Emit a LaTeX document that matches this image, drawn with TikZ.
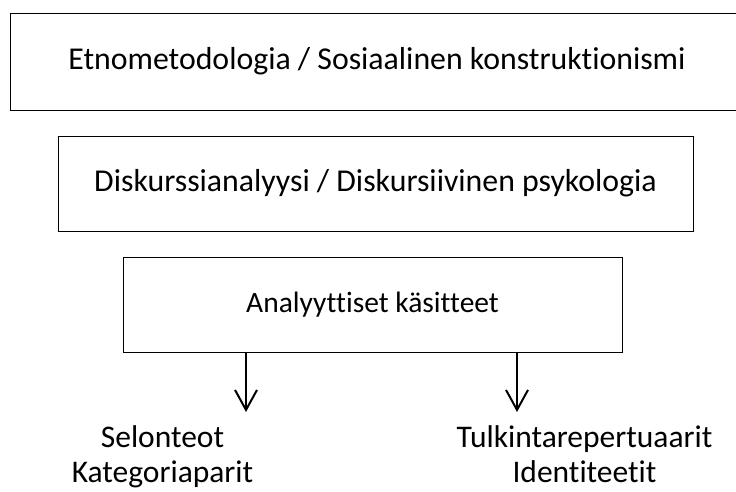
\documentclass[tikz,border=0pt]{standalone}
\usepackage{fontspec}
\setmainfont{Carlito}[Ligatures={NoCommon}]
\usetikzlibrary{arrows.meta, positioning}

\begin{document}
\begin{tikzpicture}[
    x=1pt, y=-1pt,
    node distance=25pt,
    box/.style={rectangle, draw, line width=1pt, inner sep=0pt, align=center, font=\fontsize{31.8}{38}\selectfont},
    term/.style={inner sep=0pt, align=center, text depth=6pt, font=\fontsize{31.5}{35}\selectfont},
    arrow/.style={-{Straight Barb[length=20pt, width=22pt]}, line width=2pt}
]
    \useasboundingbox (0,0) rectangle (736,491);

    \node[box, minimum width=734pt, minimum height=97pt] (etno) at (377,61.5) {Etnometodologia / Sosiaalinen konstruktionismi};
    \node[box, minimum width=635pt, minimum height=95pt, below=of etno, xshift=-1.5pt] (diskurssi) {Diskurssianalyysi / Diskursiivinen psykologia};
    \node[box, minimum width=499pt, minimum height=95pt, below=of diskurssi, xshift=-3pt, font=\fontsize{29.5}{36}\selectfont] (analyysi) {Analyyttiset käsitteet};

    % vapaat nuolenpaat
    \coordinate (vasen) at (246,412);
    \coordinate (oikea) at (517,412);

    \node[term] (selonteot) at (162.5,457.5) {Selonteot\\Kategoriaparit};
    \node[term] (tulkinta) at (584.5,457.5) {Tulkintarepertuaarit\\Identiteetit};

    \draw[arrow] (vasen |- analyysi.south) -- (vasen);
    \draw[arrow] (oikea |- analyysi.south) -- (oikea);
\end{tikzpicture}
\end{document}
